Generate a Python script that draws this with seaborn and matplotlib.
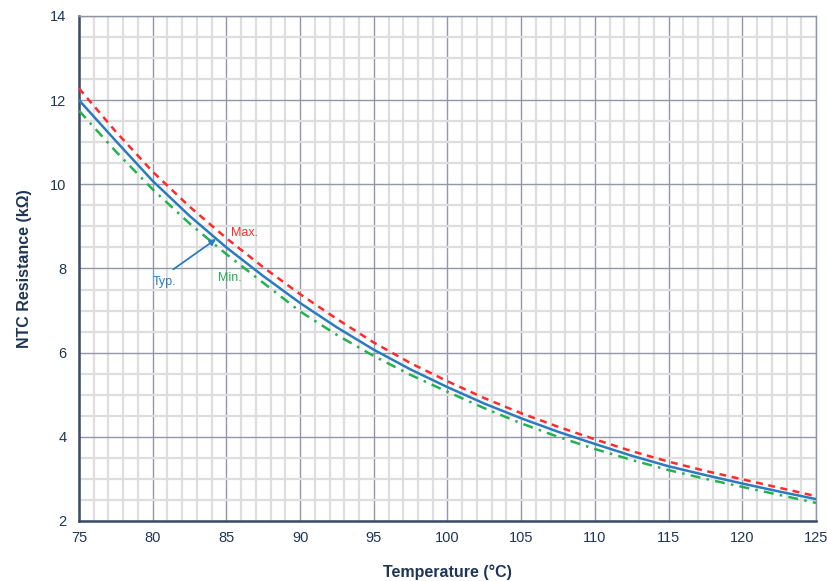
import numpy as np
import pandas as pd
import matplotlib
matplotlib.use("Agg")
import matplotlib.pyplot as plt
from matplotlib.ticker import MultipleLocator
import seaborn as sns

# valeurs (tous les 2.5 °C)
temperature = [75, 77.5, 80, 82.5, 85, 87.5, 90, 92.5, 95, 97.5, 100,
               102.5, 105, 107.5, 110, 112.5, 115, 117.5, 120, 122.5, 125]
r_typ = [12.0, 11.03, 10.08, 9.25, 8.5, 7.82, 7.18, 6.6, 6.07, 5.6, 5.18,
         4.79, 4.44, 4.12, 3.83, 3.55, 3.30, 3.09, 2.89, 2.70, 2.52]
r_max = [12.28, 11.25, 10.3, 9.47, 8.72, 8.03, 7.39, 6.8, 6.24, 5.75, 5.32,
         4.92, 4.56, 4.24, 3.94, 3.66, 3.41, 3.19, 2.99, 2.79, 2.59]
r_min = [11.75, 10.78, 9.88, 9.07, 8.34, 7.66, 6.98, 6.42, 5.92, 5.47, 5.07,
         4.68, 4.32, 4.0, 3.71, 3.45, 3.21, 3.0, 2.81, 2.62, 2.43]

x_ticks = [75, 80, 85, 90, 95, 100, 105, 110, 115, 120, 125]
y_ticks = [2, 4, 6, 8, 10, 12, 14]

BLEU = "#2b7bbf"
ROUGE = "#ff2a2a"
VERT = "#23b24f"
MARINE = "#1f3556"

sns.set_style("white")
plt.rcParams["font.family"] = ["Liberation Sans", "DejaVu Sans"]

df = pd.DataFrame({"T": temperature, "Typ": r_typ, "Max": r_max, "Min": r_min})

fig = plt.figure(figsize=(8.28, 5.81), dpi=100)
ax = fig.add_axes([0.0954, 0.1033, 0.8901, 0.8692])

# grille
ax.xaxis.set_major_locator(MultipleLocator(5))
ax.xaxis.set_minor_locator(MultipleLocator(1))
ax.yaxis.set_major_locator(MultipleLocator(2))
ax.yaxis.set_minor_locator(MultipleLocator(0.5))
ax.grid(which="minor", color="#dedede", linewidth=1.6, zorder=0)
ax.grid(which="major", color="#9298aa", linewidth=1.0, zorder=0)
ax.set_axisbelow(True)

sns.lineplot(data=df, x="T", y="Min", ax=ax, color=VERT, linewidth=1.8,
             linestyle=(0, (4, 2.5, 1, 2.5)), zorder=3)
sns.lineplot(data=df, x="T", y="Max", ax=ax, color=ROUGE, linewidth=1.8,
             linestyle=(0, (2.8, 2.2)), zorder=3)
sns.lineplot(data=df, x="T", y="Typ", ax=ax, color=BLEU, linewidth=1.8, zorder=4)

ax.set_xlim(75, 125)
ax.set_ylim(2, 14)
ax.set_xticks(x_ticks)
ax.set_yticks(y_ticks)

ax.tick_params(axis="both", which="major", labelsize=10.5, labelcolor=MARINE,
               color=MARINE, length=4, width=1, direction="out")
ax.tick_params(axis="y", which="major", pad=5)
ax.tick_params(axis="x", which="major", pad=3.5)
ax.tick_params(axis="both", which="minor", length=0)

for cote in ["left", "bottom"]:
    ax.spines[cote].set_color("#3b4a66")
    ax.spines[cote].set_linewidth(1.8)
for cote in ["top", "right"]:
    ax.spines[cote].set_color("#8e94a6")
    ax.spines[cote].set_linewidth(1.0)

ax.set_xlabel("Temperature (°C)", fontsize=11.5, fontweight="bold", color=MARINE, labelpad=14)
ax.set_ylabel("NTC Resistance (kΩ)", fontsize=11.5, fontweight="bold", color=MARINE, labelpad=13)

# étiquettes des courbes
ax.text(85.3, 8.85, "Max.", color=ROUGE, fontsize=9, va="center", ha="left")
ax.text(84.4, 7.77, "Min.", color=VERT, fontsize=9, va="center", ha="left")
ax.text(80.0, 7.68, "Typ.", color=BLEU, fontsize=9, va="center", ha="left")
ax.annotate("", xy=(84.3, 8.7), xytext=(81.4, 7.98),
            arrowprops=dict(arrowstyle="-|>", color=BLEU, lw=1.3,
                            mutation_scale=9, shrinkA=0, shrinkB=0))

fig.savefig("out.png", dpi=100)
